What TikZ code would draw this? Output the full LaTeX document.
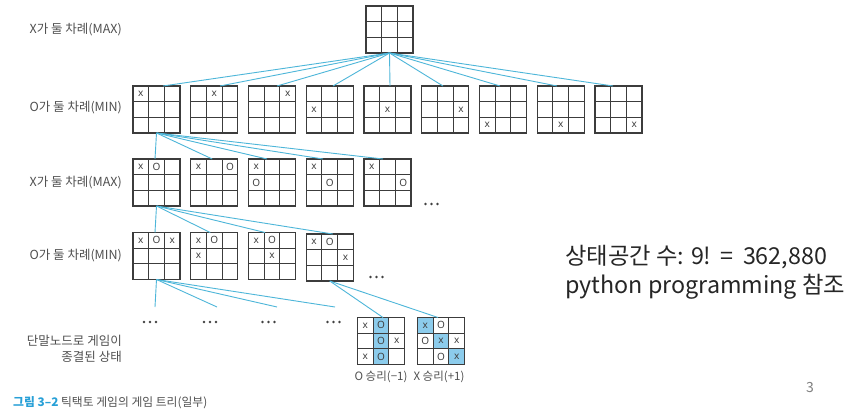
\documentclass[tikz,border=0pt]{standalone}
\usepackage{fontspec}
\setmainfont{Noto Sans CJK KR}
\newfontfamily\markfont{Noto Sans}
\usetikzlibrary{calc}
\definecolor{edgec}{RGB}{77,182,217}
\definecolor{gridc}{RGB}{60,60,60}
\definecolor{hic}{RGB}{140,204,236}
\definecolor{labc}{RGB}{80,80,80}
\definecolor{capc}{RGB}{40,160,215}
\definecolor{markc}{RGB}{65,65,65}
\newcommand\mk[4]{\node[cellmark] at ($(#1.center)+({(#2-1)*15.667},{(#3-1)*15.667})$) {#4};}
\newcommand\hl[3]{\fill[hic] ($(#1)+({(#2-1)*15.667-7.833},{(#3-1)*15.667-7.833})$) rectangle ++(15.667,15.667);}
\tikzset{
  board/.style={draw=gridc, line width=1.2pt, minimum size=47pt, inner sep=0pt, outer sep=0pt,
    path picture={
      \foreach \f in {1,2}{
        \draw[gridc, line width=1pt]
          ($(path picture bounding box.north west)!\f/3!(path picture bounding box.north east)$) --
          ($(path picture bounding box.south west)!\f/3!(path picture bounding box.south east)$);
        \draw[gridc, line width=1pt]
          ($(path picture bounding box.north west)!\f/3!(path picture bounding box.south west)$) --
          ($(path picture bounding box.north east)!\f/3!(path picture bounding box.south east)$);
      }}},
  cellmark/.style={inner sep=0pt, text=markc, font=\markfont\fontsize{10}{10}\selectfont},
  edge/.style={draw=edgec, line width=0.9pt},
  lab/.style={inner sep=0pt, text=labc, font=\fontsize{12.5}{16}\selectfont},
  tlab/.style={inner sep=0pt, text=labc, font=\fontsize{11.5}{14}\selectfont},
  bigtxt/.style={inner sep=0pt, anchor=west, text=black!85, font=\fontsize{23.3}{28}\selectfont},
}
\begin{document}
\begin{tikzpicture}[x=1pt, y=-1pt]
\useasboundingbox[fill=white] (0,0) rectangle (855,415);

% root
\node[board] (r) at (389.5,29.5) {};

% row 2
\foreach \i/\cx in {1/156.5,2/214.25,3/272,4/329.75,5/387.5,6/445.25,7/503,8/560.75,9/618.5}
  \node[board] (b\i) at (\cx,109.5) {};
\mk{b1}{0}{0}{x}\mk{b2}{1}{0}{x}\mk{b3}{2}{0}{x}
\mk{b4}{0}{1}{x}\mk{b5}{1}{1}{x}\mk{b6}{2}{1}{x}
\mk{b7}{0}{2}{x}\mk{b8}{1}{2}{x}\mk{b9}{2}{2}{x}

% row 3
\foreach \i/\cx in {1/156.5,2/214.25,3/272,4/329.75,5/387.5}
  \node[board] (c\i) at (\cx,182.5) {};
\foreach \i in {1,...,5} {\mk{c\i}{0}{0}{x}}
\mk{c1}{1}{0}{O}\mk{c2}{2}{0}{O}\mk{c3}{0}{1}{O}\mk{c4}{1}{1}{O}\mk{c5}{2}{1}{O}

% row 4
\node[board] (d1) at (156.5,256) {};
\node[board] (d2) at (214.25,256) {};
\node[board] (d3) at (272,256) {};
\node[board] (d4) at (329.75,257.5) {};
\foreach \i in {1,...,4} {\mk{d\i}{0}{0}{x}\mk{d\i}{1}{0}{O}}
\mk{d1}{2}{0}{x}\mk{d2}{0}{1}{x}\mk{d3}{1}{1}{x}\mk{d4}{2}{1}{x}

% terminal boards
\coordinate (t1c) at (381,341);
\coordinate (t2c) at (441,341);
\hl{t1c}{1}{0}\hl{t1c}{1}{1}\hl{t1c}{1}{2}
\hl{t2c}{0}{0}\hl{t2c}{1}{1}\hl{t2c}{2}{2}
\node[board] (t1) at (t1c) {};
\node[board] (t2) at (t2c) {};
\mk{t1}{0}{0}{x}\mk{t1}{1}{0}{O}\mk{t1}{1}{1}{O}\mk{t1}{2}{1}{x}\mk{t1}{0}{2}{x}\mk{t1}{1}{2}{O}
\mk{t2}{0}{0}{x}\mk{t2}{1}{0}{O}\mk{t2}{0}{1}{O}\mk{t2}{1}{1}{x}\mk{t2}{2}{1}{x}\mk{t2}{1}{2}{O}\mk{t2}{2}{2}{x}

% edges root -> row 2
\foreach \i/\s in {1/6.5,2/5.75,3/5,4/3.25,5/2.5,6/-2.25,7/-3,8/-3.75,9/-5.5}
  \draw[edge] (r.south) -- ([xshift=\s pt]b\i.north);
% row 2 -> row 3
\foreach \i/\s in {1/-1.5,2/-2,3/-5,4/-6.75,5/-4.5}
  \draw[edge] (b1.south) -- ([xshift=\s pt]c\i.north);
% row 3 -> row 4
\foreach \i/\s in {1/-1.5,2/-4,3/-7,4/3}
  \draw[edge] (c1.south) -- ([xshift=\s pt]d\i.north);
% row 4 -> open ends
\coordinate (e1) at (155,307);
\coordinate (e2) at (217,307);
\coordinate (e3) at (277,307);
\coordinate (e4) at (335,307);
\foreach \i in {1,...,4} \draw[edge] (d1.south) -- (e\i);
% row 4 -> terminal
\draw[edge] (d4.south) -- ([xshift=2pt]t1.north);
\draw[edge] (d4.south) -- ([xshift=-3pt]t2.north);

% dots
\foreach \cx/\cy in {431.5/204, 376.5/277, 150/322, 210/322, 268.5/322, 333.5/322}
  \foreach \d in {-6,0,6}
    \fill[markc] (\cx+\d,\cy) circle (1.4pt);

% left labels
\node[lab, anchor=east] (l1) at (122,30) {X가 둘 차례(MAX)};
\node[lab, anchor=east] (l2) at (122,108) {O가 둘 차례(MIN)};
\node[lab, anchor=east] (l3) at (122,183) {X가 둘 차례(MAX)};
\node[lab, anchor=east] (l4) at (122,256) {O가 둘 차례(MIN)};
\node[lab, anchor=east, align=right] (l5) at (122,349) {단말노드로 게임이\\종결된 상태};

% terminal labels
\node[tlab] (o1) at (381,377) {O 승리(−1)};
\node[tlab] (o2) at (439,377) {X 승리(+1)};

% caption
\node[inner sep=0pt, anchor=west, text=labc, font=\fontsize{11.8}{13}\selectfont] (cap) at (13,403)
  {\textcolor{capc}{\bfseries 그림 3–2}\ 틱택토 게임의 게임 트리(일부)};

% right text
\node[bigtxt] (s1) at (565,257) {상태공간 수: 9!\hspace{0.4em}=\hspace{0.4em}362,880};
\node[bigtxt] (s2) at (565,287) {python programming 참조};

% page number
\node[inner sep=0pt, text=gray, font=\fontsize{14}{14}\selectfont] (pg) at (810,388) {3};
\end{tikzpicture}
\end{document}
